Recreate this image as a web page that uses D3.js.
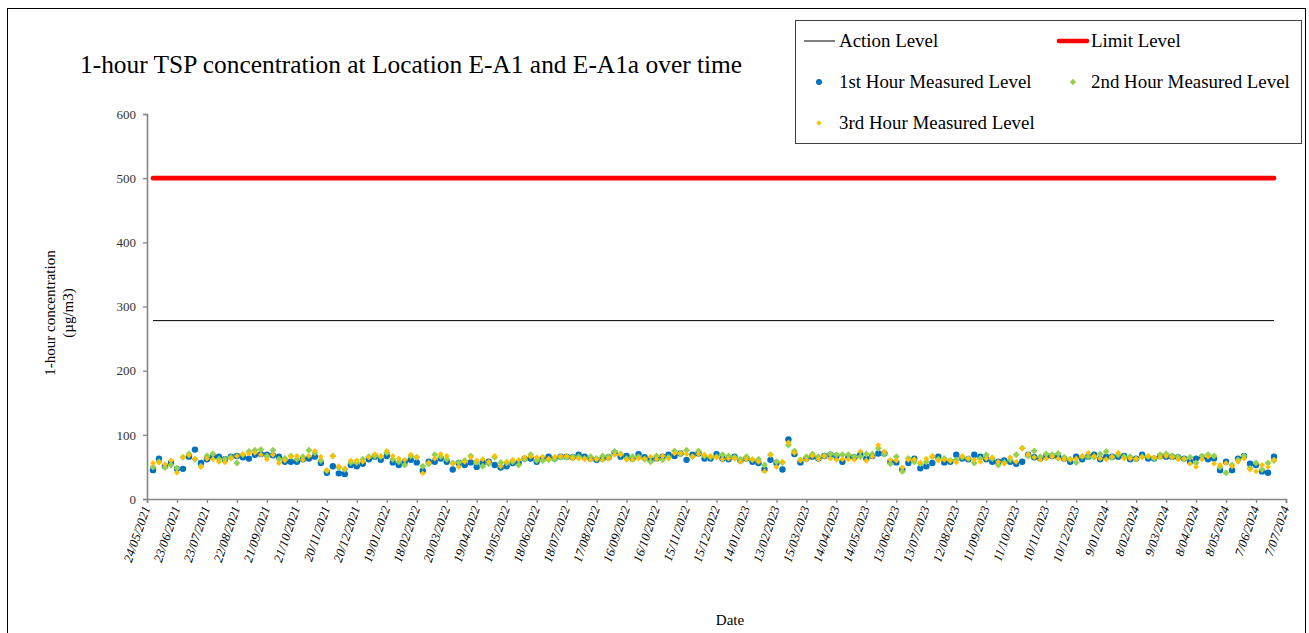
<!DOCTYPE html>
<html>
<head>
<meta charset="utf-8">
<script src="https://cdn.jsdelivr.net/npm/d3@7"></script>
<style>
  body { margin: 0; background: #fff; }
  svg { display: block; font-family: "Liberation Serif", "Times New Roman", serif; }
</style>
</head>
<body>
<svg></svg>
<script>
// chart data
const tickLabels = ["24/05/2021","23/06/2021","23/07/2021","22/08/2021","21/09/2021","21/10/2021",
  "20/11/2021","20/12/2021","19/01/2022","18/02/2022","20/03/2022","19/04/2022","19/05/2022",
  "18/06/2022","18/07/2022","17/08/2022","16/09/2022","16/10/2022","15/11/2022","15/12/2022",
  "14/01/2023","13/02/2023","15/03/2023","14/04/2023","14/05/2023","13/06/2023","13/07/2023",
  "12/08/2023","11/09/2023","11/10/2023","10/11/2023","10/12/2023","9/01/2024","8/02/2024",
  "9/03/2024","8/04/2024","8/05/2024","7/06/2024","7/07/2024"];
const yTicks = [0, 100, 200, 300, 400, 500, 600];

// monitoring every 6 days, starting 30/05/2021
const firstSample = "30/05/2021";
const sampleStepDays = 6;

const hour1 = [45,63,51,56,47,47,66,77,56,62,66,66,62,66,67,65,63,69,70,69,68,66,58,58,58,62,63,66,56,41,51,40,39,53,51,55,62,
  66,61,67,57,53,58,61,57,44,58,58,63,58,46,56,53,57,50,56,58,53,49,51,56,56,63,63,58,63,66,63,66,66,65,69,66,63,61,
  63,65,72,66,67,63,70,65,61,63,66,69,67,71,61,69,71,63,63,70,63,62,66,60,63,58,56,46,61,56,46,93,70,57,63,66,63,67,
  69,67,58,66,65,69,63,67,71,71,58,57,46,56,63,48,51,56,66,57,58,69,63,62,69,66,62,58,58,60,58,55,58,69,65,63,66,
  67,66,63,58,66,62,66,69,62,66,66,66,67,62,63,69,63,63,67,66,66,65,63,58,63,65,62,63,45,58,45,63,67,55,53,43,41,66];
const hour2 = [50,58,49,53,48,65,70,62,51,67,70,62,62,65,56,69,74,76,77,67,76,62,63,67,62,66,76,72,60,44,67,49,46,57,57,62,66,
  67,66,72,62,58,53,67,65,51,55,69,66,62,56,57,60,67,57,51,55,65,57,56,58,53,62,69,60,60,61,62,65,65,66,66,63,66,63,
  67,66,74,70,63,66,66,62,58,67,61,65,75,70,76,66,75,67,65,66,69,67,65,62,66,61,62,53,69,58,57,84,75,61,66,70,66,67,
  70,69,69,69,66,66,70,70,79,70,55,66,43,63,58,55,58,66,62,63,60,61,65,63,56,63,69,63,53,57,61,69,79,67,75,66,70,
  69,71,65,62,57,66,66,65,70,74,65,69,66,66,62,66,66,63,69,70,67,66,62,65,56,67,69,67,50,41,53,61,67,48,56,46,56,60];
const hour3 = [56,57,54,60,41,65,68,63,50,63,62,58,57,63,67,70,71,72,69,62,69,56,60,66,67,61,67,75,66,45,67,51,48,60,60,58,65,
  70,67,75,67,63,61,69,65,40,57,63,70,67,55,50,58,65,60,62,58,67,51,58,61,61,65,66,65,66,63,66,67,67,63,63,62,61,62,
  61,63,69,69,61,61,63,63,66,62,67,63,71,72,70,66,70,69,67,65,62,63,63,58,62,62,58,43,69,50,58,88,72,60,61,67,62,67,
  63,61,62,62,61,74,60,66,84,74,61,60,49,61,62,57,63,67,60,61,60,57,67,63,61,58,63,65,58,55,65,58,79,70,65,61,63,
  66,63,62,61,63,67,72,67,63,62,66,72,63,63,63,65,67,65,65,67,65,62,63,55,50,62,66,55,53,56,51,58,63,46,43,53,50,61];
const actionLevel = 278;
const limitLevel = 500;

const W = 1309, H = 633;
const parseDM = d3.timeParse("%d/%m/%Y");

const svg = d3.select("svg").attr("width", W).attr("height", H);

// outer frame (bottom edge is below the window)
svg.append("rect")
  .attr("x", 7.5).attr("y", 8.5).attr("width", 1298).attr("height", 640)
  .attr("fill", "none").attr("stroke", "#000").attr("stroke-width", 1);

const tickDates = tickLabels.map(parseDM);
const x = d3.scaleTime()
  .domain([tickDates[0], tickDates[tickDates.length - 1]])
  .range([147, 1286]);
const y = d3.scaleLinear().domain([0, 600]).range([499, 114]);

const start = parseDM(firstSample);
const dates = hour1.map((v, i) => d3.timeDay.offset(start, i * sampleStepDays));

// title
svg.append("text")
  .attr("x", 80).attr("y", 73)
  .attr("font-size", 25.4)
  .text("1-hour TSP concentration at Location E-A1 and E-A1a over time");

// y axis
const yAxis = svg.append("g")
  .attr("transform", "translate(147,0)")
  .call(d3.axisLeft(y).tickValues(yTicks).tickSize(4).tickPadding(7));
yAxis.selectAll("text").attr("font-size", 13).attr("fill", "#333")
  .attr("font-family", "Liberation Serif, serif");

// x axis
const xAxis = svg.append("g")
  .attr("transform", "translate(0,499)")
  .call(d3.axisBottom(x).tickValues(tickDates).tickSize(4)
    .tickFormat((d, i) => tickLabels[i]));
xAxis.selectAll("text")
  .attr("font-size", 12.8)
  .attr("font-style", "italic")
  .attr("font-family", "Liberation Serif, serif")
  .attr("fill", "#000")
  .attr("text-anchor", "end")
  .attr("dy", null)
  .attr("y", 0)
  .attr("transform", "translate(3,9) rotate(-71)");

[yAxis, xAxis].forEach(g => {
  g.select(".domain").attr("stroke", "#868686").attr("stroke-width", 1.6);
  g.selectAll(".tick line").attr("stroke", "#868686").attr("stroke-width", 1.3);
});

// axis titles
const yTitle = svg.append("text")
  .attr("transform", "translate(55,313) rotate(-90)")
  .attr("text-anchor", "middle")
  .attr("font-size", 15);
yTitle.append("tspan").attr("x", 0).attr("dy", 0).text("1-hour concentration");
yTitle.append("tspan").attr("x", 0).attr("dy", 18).text("(µg/m3)");

svg.append("text")
  .attr("x", 730).attr("y", 625)
  .attr("text-anchor", "middle")
  .attr("font-size", 15)
  .text("Date");

// level lines
const span = [dates[0], dates[dates.length - 1]];
const levelLine = lvl => d3.line().x(d => x(d)).y(() => y(lvl))(span);

svg.append("path").attr("d", levelLine(limitLevel))
  .attr("stroke", "#ff0000").attr("stroke-width", 4.6).attr("fill", "none")
  .attr("stroke-linecap", "round");
svg.append("path").attr("d", levelLine(actionLevel))
  .attr("stroke", "#000").attr("stroke-width", 1).attr("fill", "none");

// measured points
const diamond = d3.symbol().type(d3.symbolSquare);

svg.append("g").selectAll("circle")
  .data(hour1).enter().append("circle")
  .attr("cx", (d, i) => x(dates[i]))
  .attr("cy", d => y(d))
  .attr("r", 3.2)
  .attr("fill", "#0070C0");

svg.append("g").selectAll("path")
  .data(hour2).enter().append("path")
  .attr("d", diamond.size(24)())
  .attr("transform", (d, i) => "translate(" + x(dates[i]) + "," + y(d) + ") rotate(45)")
  .attr("fill", "#92D050");

svg.append("g").selectAll("path")
  .data(hour3).enter().append("path")
  .attr("d", diamond.size(17)())
  .attr("transform", (d, i) => "translate(" + x(dates[i]) + "," + y(d) + ") rotate(45)")
  .attr("fill", "#FFC000");

// legend
const legend = svg.append("g");
legend.append("rect")
  .attr("x", 795.5).attr("y", 20.5).attr("width", 506).attr("height", 123)
  .attr("fill", "#fff").attr("stroke", "#404040").attr("stroke-width", 1);

legend.append("line").attr("x1", 804).attr("x2", 835).attr("y1", 41).attr("y2", 41)
  .attr("stroke", "#000").attr("stroke-width", 1);
legend.append("line").attr("x1", 1059).attr("x2", 1087).attr("y1", 41).attr("y2", 41)
  .attr("stroke", "#ff0000").attr("stroke-width", 4.6).attr("stroke-linecap", "round");
legend.append("circle").attr("cx", 819).attr("cy", 82).attr("r", 3).attr("fill", "#0070C0");
legend.append("path").attr("d", diamond.size(20)())
  .attr("transform", "translate(1073,82) rotate(45)").attr("fill", "#92D050");
legend.append("path").attr("d", diamond.size(14)())
  .attr("transform", "translate(819,123) rotate(45)").attr("fill", "#FFC000");

const legendItems = [
  ["Action Level", 839, 41], ["Limit Level", 1091, 41],
  ["1st Hour Measured Level", 839, 82], ["2nd Hour Measured Level", 1091, 82],
  ["3rd Hour Measured Level", 839, 123]
];
legend.selectAll("text.item")
  .data(legendItems).enter().append("text")
  .attr("class", "item")
  .attr("x", d => d[1]).attr("y", d => d[2] + 6)
  .attr("font-size", 18.9)
  .text(d => d[0]);
</script>
</body>
</html>
